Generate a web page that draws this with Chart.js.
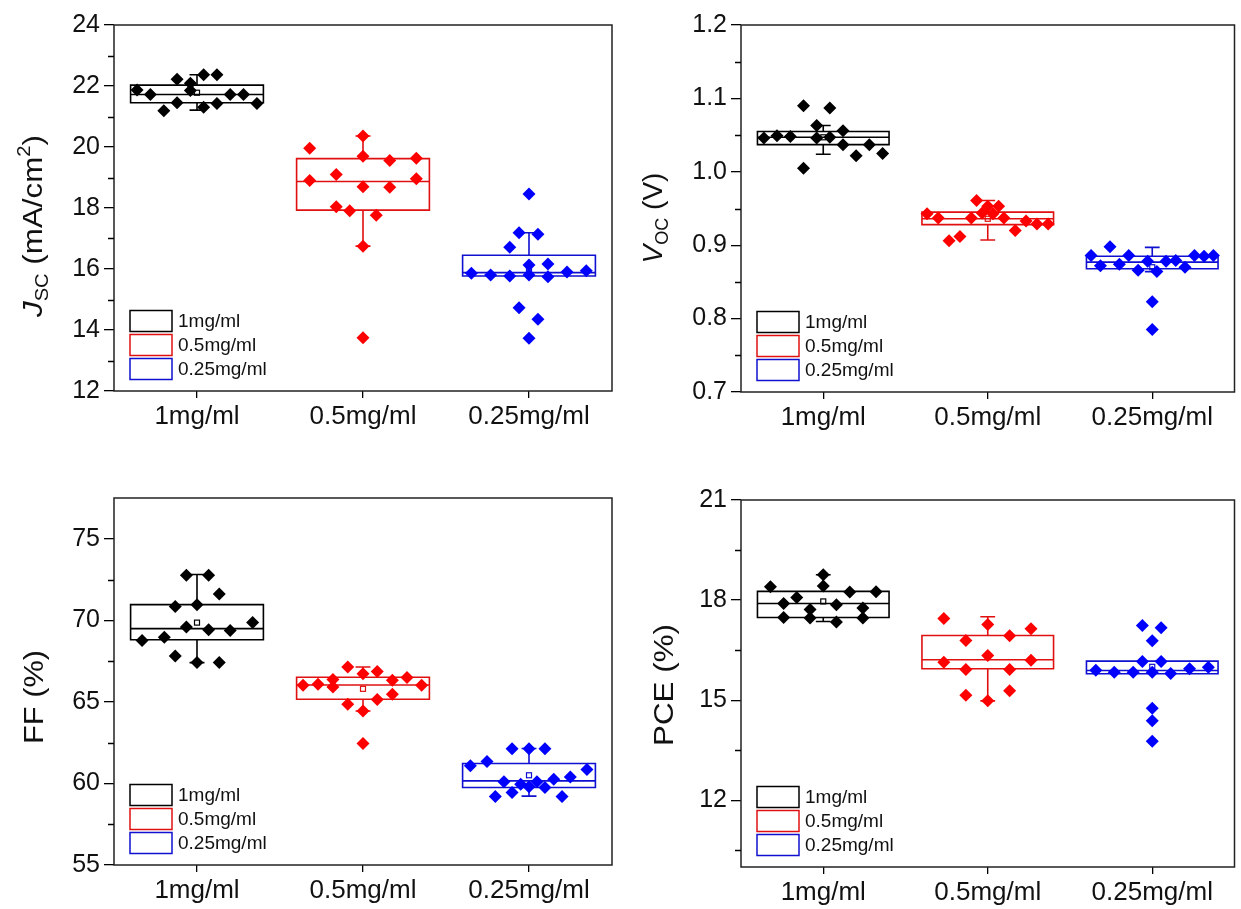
<!DOCTYPE html>
<html>
<head>
<meta charset="utf-8">
<script src="https://cdn.jsdelivr.net/npm/chart.js@4.4.1/dist/chart.umd.min.js"></script>
<style>
  body { margin: 0; background: #fff; width: 1241px; height: 909px; position: relative; overflow: hidden; }
  canvas { position: absolute; }
</style>
</head>
<body>
<canvas id="jsc" width="620" height="455" style="left:0;top:0"></canvas>
<canvas id="voc" width="621" height="455" style="left:620px;top:0"></canvas>
<canvas id="ff" width="620" height="454" style="left:0;top:455px"></canvas>
<canvas id="pce" width="621" height="454" style="left:620px;top:455px"></canvas>
<script>
// --- data ---
const categories = ['1mg/ml', '0.5mg/ml', '0.25mg/ml'];

// Jsc (mA/cm2): values per group and their horizontal jitter (in category units)
const jscValues = [
  [21.87, 21.72, 21.19, 22.22, 21.45, 22.09, 21.85, 22.37, 21.30, 22.37, 21.43, 21.72, 21.72, 21.43],
  [19.96, 18.90, 19.10, 18.04, 17.91, 20.36, 19.70, 18.70, 16.75, 13.75, 17.76, 19.56, 18.68, 19.63, 18.96],
  [15.86, 15.80, 16.71, 15.77, 17.19, 14.73, 18.46, 16.13, 15.80, 13.73, 17.14, 14.35, 16.16, 15.75, 15.90, 15.94]
];
const jscJitter = [
  [-0.361, -0.281, -0.2, -0.12, -0.12, -0.04, -0.04, 0.04, 0.04, 0.12, 0.12, 0.2, 0.28, 0.361],
  [-0.321, -0.321, -0.161, -0.161, -0.08, 0, 0, 0, 0, 0, 0.08, 0.161, 0.161, 0.321, 0.321],
  [-0.347, -0.231, -0.116, -0.116, -0.06, -0.06, 0, 0, 0, 0, 0.054, 0.054, 0.114, 0.114, 0.229, 0.345]
];
// [whisker low, Q1, median, Q3, whisker high, mean]
const jscBoxes = [
  [21.21, 21.45, 21.72, 22.03, 22.37, 21.78],
  [16.75, 17.93, 18.87, 19.62, 20.36, 18.70],
  [15.77, 15.77, 15.88, 16.45, 17.19, 16.00]
];
const jscTicks = [12, 14, 16, 18, 20, 22, 24];
const jscMinor = [13, 15, 17, 19, 21, 23];

const vocValues = [
  [1.046, 1.049, 1.048, 1.090, 1.005, 1.063, 1.046, 1.087, 1.047, 1.056, 1.037, 1.022, 1.037, 1.025],
  [0.943, 0.937, 0.906, 0.912, 0.937, 0.961, 0.944, 0.953, 0.943, 0.953, 0.937, 0.920, 0.933, 0.929, 0.929],
  [0.886, 0.872, 0.898, 0.874, 0.886, 0.866, 0.878, 0.823, 0.785, 0.864, 0.878, 0.879, 0.870, 0.886, 0.885, 0.886]
];
const vocJitter = [
  [-0.361, -0.281, -0.2, -0.12, -0.12, -0.04, -0.04, 0.04, 0.04, 0.12, 0.12, 0.2, 0.28, 0.361],
  [-0.369, -0.301, -0.235, -0.169, -0.1, -0.068, -0.034, 0, 0.032, 0.066, 0.098, 0.167, 0.233, 0.299, 0.367],
  [-0.372, -0.315, -0.257, -0.2, -0.143, -0.086, -0.028, 0, 0, 0.028, 0.084, 0.143, 0.199, 0.257, 0.315, 0.372]
];
const vocBoxes = [
  [1.024, 1.037, 1.047, 1.055, 1.063, 1.047],
  [0.907, 0.928, 0.936, 0.945, 0.961, 0.936],
  [0.864, 0.868, 0.877, 0.885, 0.897, 0.870]
];
const vocTicks = [0.7, 0.8, 0.9, 1.0, 1.1, 1.2];
const vocMinor = [0.75, 0.85, 0.95, 1.05, 1.15];

const ffValues = [
  [68.77, 68.97, 70.85, 67.81, 72.77, 69.59, 70.96, 67.41, 72.77, 69.43, 71.61, 67.41, 69.38, 69.87],
  [66.02, 66.08, 66.37, 65.91, 67.14, 64.85, 66.73, 64.44, 62.45, 66.87, 65.14, 66.32, 65.47, 66.49, 66.02],
  [61.08, 61.34, 59.20, 60.10, 62.12, 59.44, 59.95, 62.12, 59.79, 60.10, 62.12, 59.75, 60.26, 59.20, 60.40, 60.85]
];
const ffJitter = [
  [-0.331, -0.197, -0.131, -0.131, -0.064, -0.064, 0, 0, 0.07, 0.07, 0.134, 0.134, 0.2, 0.335],
  [-0.361, -0.271, -0.181, -0.181, -0.092, -0.092, 0, 0, 0, 0.086, 0.086, 0.177, 0.177, 0.265, 0.353],
  [-0.353, -0.253, -0.203, -0.151, -0.102, -0.102, -0.05, 0, 0, 0.048, 0.096, 0.096, 0.149, 0.199, 0.249, 0.349]
];
const ffBoxes = [
  [67.41, 68.81, 69.49, 70.96, 72.81, 69.86],
  [64.44, 65.16, 66.04, 66.51, 67.14, 65.80],
  [59.22, 59.75, 60.16, 61.22, 62.14, 60.50]
];
const ffTicks = [55, 60, 65, 70, 75];
const ffMinor = [57.5, 62.5, 67.5, 72.5];

const pceValues = [
  [18.40, 17.90, 17.48, 18.08, 17.72, 17.46, 18.76, 18.42, 17.86, 17.34, 18.24, 17.76, 17.46, 18.25],
  [17.45, 16.14, 16.79, 15.92, 15.15, 17.27, 16.34, 14.98, 16.93, 15.92, 15.28, 17.14, 16.20],
  [15.90, 15.84, 15.84, 17.24, 16.16, 16.78, 15.84, 14.76, 14.38, 13.77, 17.17, 16.16, 15.80, 15.94, 15.99]
];
const pceJitter = [
  [-0.321, -0.241, -0.241, -0.161, -0.08, -0.08, 0, 0, 0.08, 0.08, 0.161, 0.241, 0.241, 0.321],
  [-0.267, -0.267, -0.133, -0.133, -0.133, 0, 0, 0, 0.133, 0.133, 0.133, 0.263, 0.263],
  [-0.343, -0.231, -0.116, -0.06, -0.06, 0, 0, 0, 0, 0, 0.054, 0.054, 0.112, 0.227, 0.341]
];
const pceBoxes = [
  [17.36, 17.48, 17.90, 18.26, 18.76, 17.96],
  [14.98, 15.94, 16.21, 16.94, 17.50, 16.30],
  [15.79, 15.79, 15.89, 16.17, 16.17, 16.00]
];
const pceTicks = [12, 15, 18, 21];
const pceMinor = [10.5, 13.5, 16.5, 19.5];

// --- styling ---
const FONT = "'Liberation Sans', Arial, sans-serif";
const pointColors = ['#000000', '#ff0000', '#0000ff'];
const lineColors = ['#000000', '#e01010', '#1010d0'];
const BOX_HALF = 0.4;
const CAP_HALF = 0.045;

// draws boxes, whiskers, frame, minor ticks, the rotated y title and the inset legend
const boxPlotPlugin = {
  id: 'boxPlot',
  beforeDatasetsDraw(chart, args, opts) {
    const { ctx, scales: { x, y } } = chart;
    ctx.save();
    opts.boxes.forEach((b, i) => {
      const [low, q1, med, q3, high, mean] = b;
      const xl = x.getPixelForValue(i - BOX_HALF);
      const xr = x.getPixelForValue(i + BOX_HALF);
      const xc = x.getPixelForValue(i);
      const cw = x.getPixelForValue(i + CAP_HALF) - xc;
      ctx.strokeStyle = lineColors[i];
      ctx.lineWidth = 1.6;
      ctx.beginPath();
      ctx.rect(xl, y.getPixelForValue(q3), xr - xl, y.getPixelForValue(q1) - y.getPixelForValue(q3));
      ctx.moveTo(xl, y.getPixelForValue(med));
      ctx.lineTo(xr, y.getPixelForValue(med));
      if (high > q3) {
        ctx.moveTo(xc, y.getPixelForValue(q3));
        ctx.lineTo(xc, y.getPixelForValue(high));
        ctx.moveTo(xc - cw, y.getPixelForValue(high));
        ctx.lineTo(xc + cw, y.getPixelForValue(high));
      }
      if (low < q1) {
        ctx.moveTo(xc, y.getPixelForValue(q1));
        ctx.lineTo(xc, y.getPixelForValue(low));
        ctx.moveTo(xc - cw, y.getPixelForValue(low));
        ctx.lineTo(xc + cw, y.getPixelForValue(low));
      }
      ctx.stroke();
      ctx.lineWidth = 1.2;
      const my = y.getPixelForValue(mean);
      ctx.strokeRect(xc - 2.5, my - 2.5, 5, 5);
    });
    ctx.restore();
  },
  afterDraw(chart, args, opts) {
    const { ctx, chartArea: a, scales: { y } } = chart;
    ctx.save();
    // frame
    ctx.strokeStyle = '#222';
    ctx.lineWidth = 1.5;
    ctx.strokeRect(a.left, a.top, a.right - a.left, a.bottom - a.top);
    // minor ticks
    ctx.lineWidth = 1.3;
    ctx.strokeStyle = '#000';
    ctx.beginPath();
    opts.minor.forEach(v => {
      const py = Math.round(y.getPixelForValue(v)) + 0.5;
      ctx.moveTo(a.left - 6, py);
      ctx.lineTo(a.left, py);
    });
    ctx.stroke();

    // legend
    ctx.font = '19px ' + FONT;
    ctx.textBaseline = 'middle';
    ctx.textAlign = 'left';
    categories.forEach((c, i) => {
      const cy = a.bottom - 70 + i * 24;
      ctx.strokeStyle = lineColors[i];
      ctx.lineWidth = 1.5;
      ctx.strokeRect(a.left + 16, cy - 10.5, 42, 21);
      ctx.fillStyle = '#111';
      ctx.fillText(c, a.left + 64, cy + 1);
    });

    // y title
    const t = opts.title;
    ctx.translate(t.x, t.y);
    ctx.rotate(-Math.PI / 2);
    ctx.scale(t.stretch, 1);
    ctx.textBaseline = 'alphabetic';
    ctx.fillStyle = '#111';
    const runFont = r => (r.italic ? 'italic ' : '') + (r.sub || r.sup ? 18 : 28) + 'px ' + FONT;
    let total = 0;
    t.runs.forEach(r => { ctx.font = runFont(r); total += ctx.measureText(r.text).width; });
    let u = -total / 2;
    t.runs.forEach(r => {
      ctx.font = runFont(r);
      const v = r.sub ? 6 : r.sup ? -12 : 0;
      ctx.fillText(r.text, u, v);
      u += ctx.measureText(r.text).width;
    });
    ctx.restore();
  }
};

function makePanel(id, values, jitter, boxes, ticks, minor, digits, geom, title) {
  const datasets = values.map((vals, i) => ({
    data: vals.map((v, k) => ({ x: i + jitter[i][k], y: v })),
    pointStyle: 'rectRot',
    pointRadius: 6.5,
    pointBorderWidth: 0,
    backgroundColor: pointColors[i],
    borderColor: pointColors[i],
    showLine: false
  }));
  new Chart(document.getElementById(id), {
    type: 'scatter',
    data: { datasets },
    plugins: [boxPlotPlugin],
    options: {
      responsive: false,
      animation: false,
      events: [],
      layout: { padding: { top: geom.top, right: geom.right, left: 0, bottom: 0 } },
      plugins: {
        legend: { display: false },
        tooltip: { enabled: false },
        boxPlot: { boxes, minor, title }
      },
      scales: {
        x: {
          type: 'linear',
          min: -0.5,
          max: 2.5,
          afterBuildTicks: s => { s.ticks = categories.map((c, i) => ({ value: i })); },
          afterFit: s => { s.height = geom.xHeight; },
          border: { display: false },
          grid: { drawOnChartArea: false, tickLength: 7, color: '#000', lineWidth: 1.3 },
          ticks: {
            callback: v => categories[v],
            font: { family: FONT, size: 26 },
            color: '#111',
            padding: 3,
            maxRotation: 0,
            autoSkip: false
          }
        },
        y: {
          min: geom.yMin,
          max: geom.yMax,
          afterBuildTicks: s => { s.ticks = ticks.map(v => ({ value: v })); },
          afterFit: s => { s.width = geom.yWidth; },
          border: { display: false },
          grid: { drawOnChartArea: false, tickLength: 10, color: '#000', lineWidth: 1.3 },
          ticks: {
            callback: v => v.toFixed(digits),
            font: { family: FONT, size: 25 },
            color: '#111',
            padding: 4,
            autoSkip: false
          }
        }
      }
    }
  });
}

makePanel('jsc', jscValues, jscJitter, jscBoxes, jscTicks, jscMinor, 0,
  { top: 25, right: 8, yWidth: 114, xHeight: 64, yMin: 12, yMax: 24 },
  { x: 42, y: 226, stretch: 1.12, runs: [{ text: 'J', italic: true }, { text: 'SC', sub: true }, { text: ' (mA/cm' }, { text: '2', sup: true }, { text: ')' }] });

makePanel('voc', vocValues, vocJitter, vocBoxes, vocTicks, vocMinor, 1,
  { top: 25, right: 4, yWidth: 121, xHeight: 63, yMin: 0.7, yMax: 1.2 },
  { x: 42, y: 218, stretch: 1.0, runs: [{ text: 'V', italic: true }, { text: 'OC', sub: true }, { text: ' (V)' }] });

makePanel('ff', ffValues, ffJitter, ffBoxes, ffTicks, ffMinor, 0,
  { top: 43, right: 8, yWidth: 114, xHeight: 44, yMin: 55, yMax: 77.5 },
  { x: 43, y: 242, stretch: 1.1, runs: [{ text: 'FF (%)' }] });

makePanel('pce', pceValues, pceJitter, pceBoxes, pceTicks, pceMinor, 0,
  { top: 45, right: 4, yWidth: 121, xHeight: 42, yMin: 10, yMax: 21 },
  { x: 53, y: 230, stretch: 1.12, runs: [{ text: 'PCE (%)' }] });
</script>
</body>
</html>
